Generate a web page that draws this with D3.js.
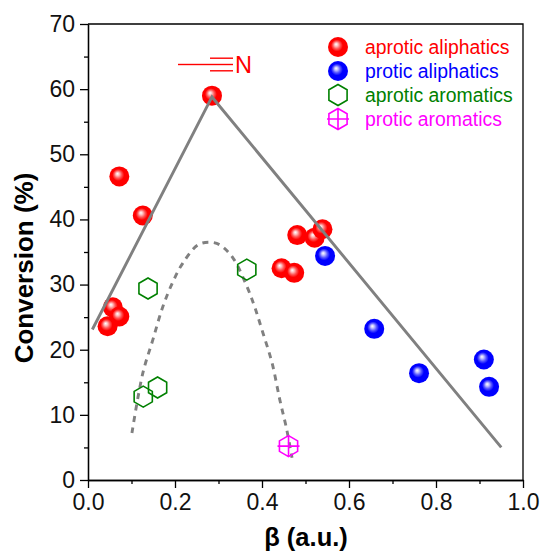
<!DOCTYPE html>
<html><head><meta charset="utf-8">
<style>html,body{margin:0;padding:0;background:#fff}svg{display:block}text{font-family:"Liberation Sans",Arial,sans-serif}</style>
<script src="https://cdn.jsdelivr.net/npm/d3@7"></script></head><body>
<script>
const apAliX=[0.285,0.072,0.126,0.057,0.072,0.045,0.445,0.474,0.481,0.521,0.539];
const apAliY=[59,46.6,40.6,26.5,25.1,23.6,32.5,31.8,37.6,37.2,38.5];
const prAliX=[0.545,0.658,0.761,0.91,0.922];
const prAliY=[34.4,23.2,16.4,18.5,14.3];
const apAroX=[0.138,0.127,0.16,0.365];
const apAroY=[29.4,12.8,14.2,32.3];
const prAroX=[0.461];
const prAroY=[5.2];
const lineX=[0.01,0.285,0.95];
const lineY=[23.1,58.8,5];
const dashX=[0.101,0.126,0.149,0.172,0.195,0.218,0.253,0.28,0.303,0.333,0.366,0.384,0.402,0.423,0.441,0.457,0.469];
const dashY=[7.2,16.4,21.5,26.6,30.4,33.3,36.1,36.5,36.1,34.1,29.6,26.4,22.6,18,12.3,7.7,3.4];
const xTicks=[0,0.2,0.4,0.6,0.8,1.0];
const xMinor=[0.1,0.3,0.5,0.7,0.9];
const yTicks=[0,10,20,30,40,50,60,70];
const yMinor=[5,15,25,35,45,55,65];
const legendLabels=["aprotic aliphatics","protic aliphatics","aprotic aromatics","protic aromatics"];
const legendColors=["#ff0000","#0000ff","#008000","#ff00ff"];

const W=541,H=551,L=88,R=523,T=24,B=480;
const x=d3.scaleLinear().domain([0,1]).range([L,R]);
const y=d3.scaleLinear().domain([0,70]).range([B,T]);
const svg=d3.select("body").append("svg").attr("width",W).attr("height",H);
const defs=svg.append("defs");
[["ballR","#ff0000"],["ballB","#0000ff"]].forEach(([id,c])=>{
  const g=defs.append("radialGradient").attr("id",id).attr("cx","0.5").attr("cy","0.5").attr("r","0.62").attr("fx","0.4").attr("fy","0.36");
  g.append("stop").attr("offset","0").attr("stop-color","#fff");
  g.append("stop").attr("offset","0.14").attr("stop-color",d3.interpolateRgb("#fff",c)(0.25));
  g.append("stop").attr("offset","0.3").attr("stop-color",d3.interpolateRgb("#fff",c)(0.65));
  g.append("stop").attr("offset","0.48").attr("stop-color",c);
  g.append("stop").attr("offset","1").attr("stop-color",c);
});
const zip=(a,b)=>a.map((d,i)=>[d,b[i]]);
const hex=r=>d3.line()(d3.range(6).map(i=>[r*Math.sin(i*Math.PI/3),-r*Math.cos(i*Math.PI/3)]))+"Z";

svg.append("path").attr("d",`M${L},${T}H${R}V${B}`).attr("fill","none").attr("stroke","#000").attr("stroke-width",1.3);

const ax=svg.append("g").attr("transform",`translate(0,${B})`).call(d3.axisBottom(x).tickValues(xTicks).tickFormat(d3.format(".1f")).tickSize(8).tickPadding(5.5).tickSizeOuter(0));
const ay=svg.append("g").attr("transform",`translate(${L},0)`).call(d3.axisLeft(y).tickValues(yTicks).tickFormat(d3.format("d")).tickSize(8).tickPadding(5).tickSizeOuter(0));
const axm=svg.append("g").attr("transform",`translate(0,${B})`).call(d3.axisBottom(x).tickValues(xMinor).tickFormat("").tickSize(4).tickSizeOuter(0));
const aym=svg.append("g").attr("transform",`translate(${L},0)`).call(d3.axisLeft(y).tickValues(yMinor).tickFormat("").tickSize(4).tickSizeOuter(0));
[ax,ay,axm,aym].forEach(a=>{a.selectAll("path,line").attr("stroke","#000").attr("stroke-width",1.3);a.selectAll("text").attr("font-size",23).attr("fill","#111")});

svg.append("text").attr("x",306).attr("y",546).attr("text-anchor","middle").attr("font-size",25.5).attr("font-weight","bold").text("β (a.u.)");
svg.append("text").attr("transform","translate(33,268) rotate(-90)").attr("text-anchor","middle").attr("font-size",26).attr("font-weight","bold").text("Conversion (%)");

const balls=(xs,ys,id)=>svg.append("g").selectAll("circle").data(zip(xs,ys)).join("circle")
  .attr("cx",d=>x(d[0])).attr("cy",d=>y(d[1])).attr("r",10).attr("fill",`url(#${id})`);
balls(apAliX,apAliY,"ballR");
balls(prAliX,prAliY,"ballB");

svg.append("path").attr("d",d3.line().x(d=>x(d[0])).y(d=>y(d[1]))(zip(lineX,lineY))).attr("fill","none").attr("stroke","#808080").attr("stroke-width",2.9);
svg.append("path").attr("d",d3.line().curve(d3.curveCatmullRom).x(d=>x(d[0])).y(d=>y(d[1]))(zip(dashX,dashY))).attr("fill","none").attr("stroke","#808080").attr("stroke-width",2.9).attr("stroke-dasharray","6 5.5");

svg.append("g").selectAll("path").data(zip(apAroX,apAroY)).join("path").attr("d",hex(10.5))
  .attr("transform",d=>`translate(${x(d[0])},${y(d[1])})`).attr("fill","none").attr("stroke","#008000").attr("stroke-width",1.6);
const crossHex=`${hex(10.5)}M-11,0H11M0,-10.5V10.5`;
svg.append("g").selectAll("path").data(zip(prAroX,prAroY)).join("path").attr("d",crossHex)
  .attr("transform",d=>`translate(${x(d[0])},${y(d[1])})`).attr("fill","none").attr("stroke","#ff00ff").attr("stroke-width",1.6);

const nit=svg.append("g").attr("stroke","#ff0000").attr("stroke-width",1.4);
nit.append("line").attr("x1",178).attr("x2",210).attr("y1",64.5).attr("y2",64.5);
[58.2,64.5,70.8].forEach(v=>nit.append("line").attr("x1",210).attr("x2",233).attr("y1",v).attr("y2",v));
svg.append("text").attr("x",235).attr("y",73).attr("font-size",23.5).attr("fill","#ff0000").text("N");

const ly=[47,71,95,119];
const lg=svg.append("g");
legendLabels.forEach((t,i)=>{
  const g=lg.append("g").attr("transform",`translate(338,${ly[i]})`);
  if(i<2) g.append("circle").attr("r",10).attr("fill",`url(#${i==0?"ballR":"ballB"})`);
  else g.append("path").attr("d",i==2?hex(10.5):crossHex).attr("fill","none").attr("stroke",legendColors[i]).attr("stroke-width",1.6);
  lg.append("text").attr("x",365).attr("y",ly[i]+7).attr("font-size",19.4).attr("fill",legendColors[i]).text(t);
});
</script></body></html>
